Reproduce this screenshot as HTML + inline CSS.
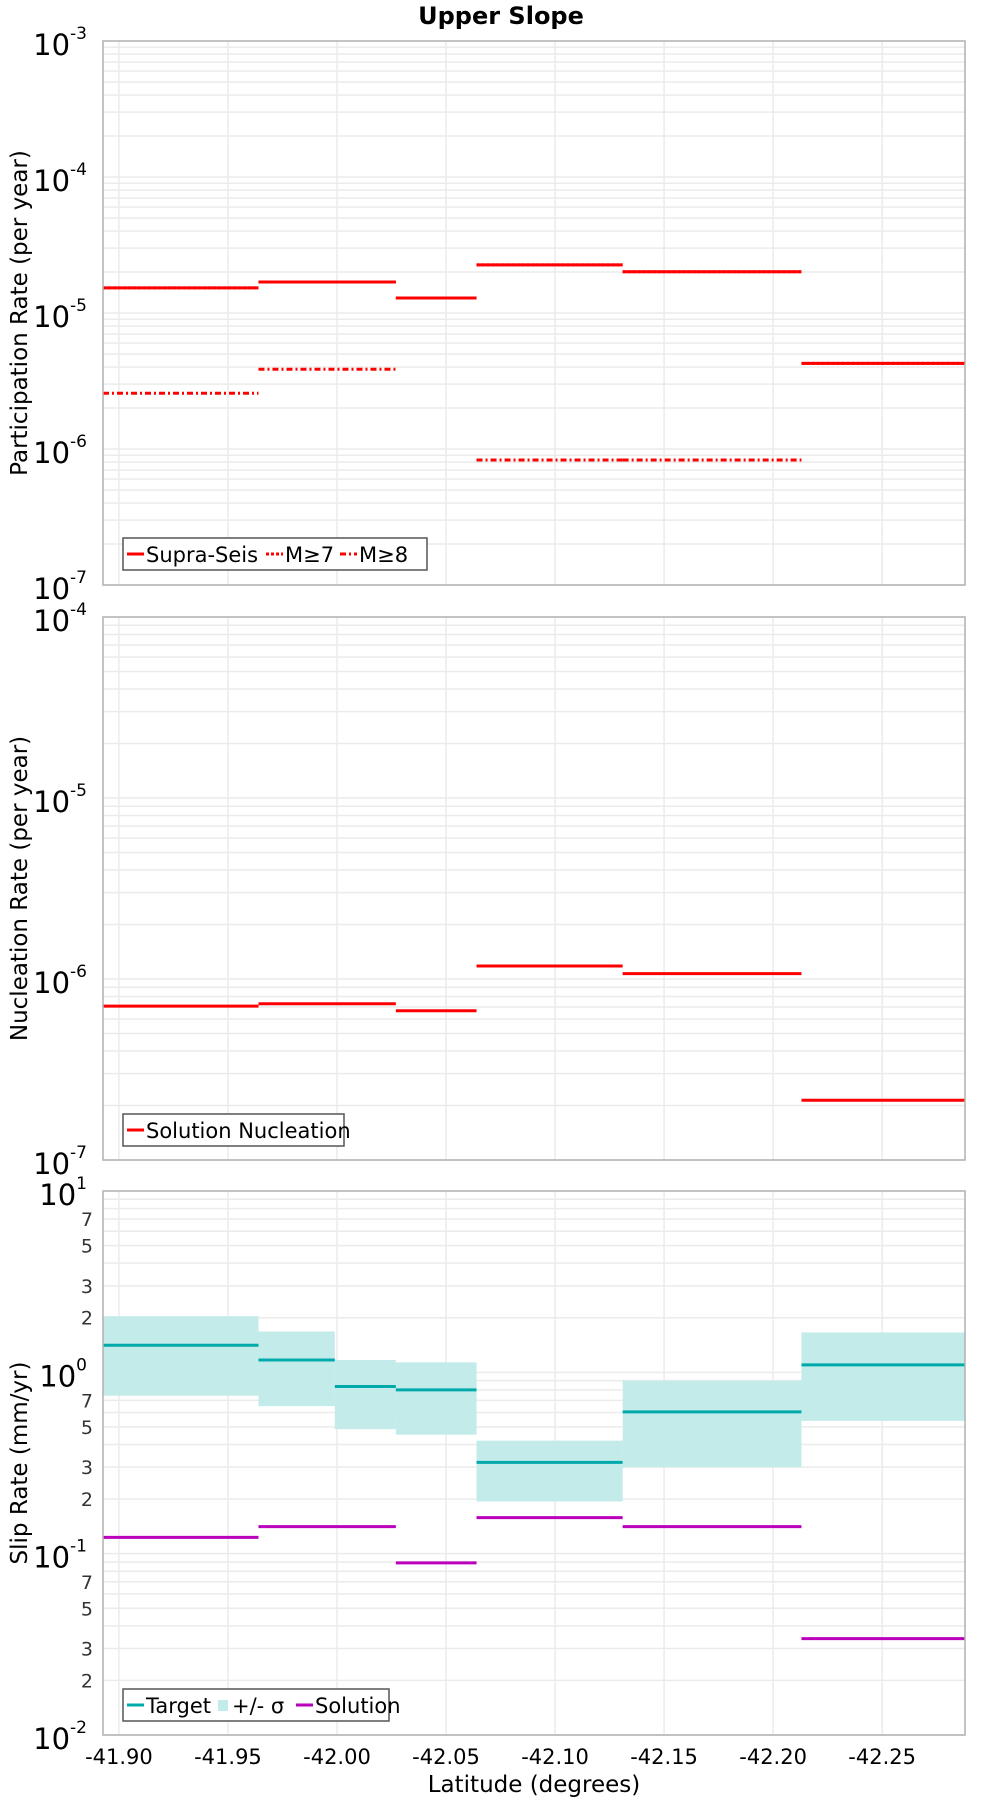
<!DOCTYPE html>
<html><head><meta charset="utf-8">
<style>
body{margin:0;background:#fff;}
svg{display:block;font-family:"DejaVu Sans","Liberation Sans",sans-serif;}
</style></head>
<body>
<svg id="chart" width="1000" height="1800" viewBox="0 0 1000 1800" xmlns="http://www.w3.org/2000/svg">
<text x="501" y="24" text-anchor="middle" font-size="24" font-weight="bold">Upper Slope</text>
<text x="534" y="1792" text-anchor="middle" font-size="23">Latitude (degrees)</text>
</svg>
<script>
// shared x data
const xTicks = [-41.90,-41.95,-42.00,-42.05,-42.10,-42.15,-42.20,-42.25];
const xTickLabels = ["-41.90","-41.95","-42.00","-42.05","-42.10","-42.15","-42.20","-42.25"];
const sectBounds = [-41.8927,-41.964,-42.027,-42.064,-42.131,-42.213,-42.288];
const targetBounds = [-41.8927,-41.964,-41.999,-42.027,-42.064,-42.131,-42.213,-42.288];
// panel 1: participation
const supraSeis = [1.53e-5,1.69e-5,1.29e-5,2.26e-5,2.01e-5,4.26e-6];
const m7 = [1.53e-5,1.69e-5,1.29e-5,2.26e-5,2.01e-5,4.26e-6];
const m8 = [2.57e-6,3.86e-6,null,8.3e-7,8.3e-7,null];
// panel 2: nucleation
const nucleation = [7.08e-7,7.3e-7,6.68e-7,1.18e-6,1.07e-6,2.14e-7];
// panel 3: slip
const targetSlip = [1.41,1.17,0.836,0.80,0.319,0.605,1.10];
const sigmaHigh = [2.04,1.68,1.17,1.135,0.42,0.90,1.66];
const sigmaLow = [0.743,0.651,0.486,0.453,0.194,0.30,0.54];
const solutionSlip = [0.123,0.141,0.089,0.158,0.141,0.034];

const NS="http://www.w3.org/2000/svg";
const svg=document.getElementById('chart');
const L=103,R=965;
function xs(lat){return L+(sectBounds[0]-lat)/(sectBounds[0]-sectBounds[6])*(R-L);}
function mk(tag,attrs,parent){const e=document.createElementNS(NS,tag);for(const k in attrs)e.setAttribute(k,attrs[k]);(parent||svg).appendChild(e);return e;}

function panel(top,bot,minE,maxE,yTitle,minorLabels,name){
  const g=mk('g',{});
  
  
  const ys=v=>bot-(Math.log10(v)-minE)/(maxE-minE)*(bot-top);
  for(let e=minE;e<maxE;e++)for(let m=1;m<10;m++){
    const y=ys(m*Math.pow(10,e));
    const gl=mk('line',{x1:L,x2:R,y1:y,y2:y,stroke:'#ebebeb','stroke-width':1.5},g);
    
    
    if(minorLabels&&[2,3,5,7].includes(m)){
      const t=mk('text',{x:L-10,y:y+7,'text-anchor':'end','font-size':19,fill:'#333'},g);t.textContent=m;
      
      
    }
  }
  xTicks.forEach(v=>{const x=xs(v);const gl=mk('line',{x1:x,x2:x,y1:top,y2:bot,stroke:'#ebebeb','stroke-width':1.5},g);
    
    });
  for(let e=minE;e<=maxE;e++){
    const y=ys(Math.pow(10,e));
    const t=mk('text',{x:L-16,y:y+14,'text-anchor':'end','font-size':29},g);
    
    
    t.textContent='10';
    const s=mk('tspan',{'font-size':17,dy:-16},t);s.textContent=String(e);
  }
  const yt=mk('text',{x:0,y:0,'text-anchor':'middle','font-size':23,transform:`translate(27,${(top+bot)/2}) rotate(-90)`},g);
  yt.textContent=yTitle;
  
  
  return {g,ys,top,bot};
}
function frame(p){const r=mk('rect',{x:L,y:p.top,width:R-L,height:p.bot-p.top,fill:'none',stroke:'#b0b0b0','stroke-width':1.5},p.g);
  
  }
function steps(p,bounds,vals,color,dash,name){
  vals.forEach((v,i)=>{if(v==null)return;const y=p.ys(v);
    const a={x1:xs(bounds[i]),x2:xs(bounds[i+1]),y1:y,y2:y,stroke:color,'stroke-width':3};
    if(dash)a['stroke-dasharray']=dash;
    const l=mk('line',a,p.g);
    
    });
}
function legend(p,x,y,w,items){
  const lg=mk('g',{},p.g);
  
  
  mk('rect',{x:x,y:y,width:w,height:32,fill:'#fff',stroke:'#555','stroke-width':1.5},lg);
  let cx=x+4;
  items.forEach(it=>{
    if(it.box){mk('rect',{x:cx+2,y:y+11,width:10,height:11,fill:it.color},lg);cx+=16;}
    else{const a={x1:cx,x2:cx+17,y1:y+16,y2:y+16,stroke:it.color,'stroke-width':3};if(it.dash)a['stroke-dasharray']=it.dash;mk('line',a,lg);cx+=19;}
    const t=mk('text',{x:cx,y:y+24,'font-size':21},lg);t.textContent=it.label;
    
    
    cx+=it.w;
  });
}

const p1=panel(41,585,-7,-3,'Participation Rate (per year)',false,'participation-panel');
steps(p1,sectBounds,supraSeis,'#ff0000',null,'supra-seis-line');
steps(p1,sectBounds,m7,'#ff0000','3 2','m7-line');
steps(p1,sectBounds,m8,'#ff0000','6 3 2 3','m8-line');
frame(p1);
legend(p1,123,538,304,[{label:'Supra-Seis',color:'#ff0000',w:120},{label:'M≥7',color:'#ff0000',dash:'3 2',w:55},{label:'M≥8',color:'#ff0000',dash:'6 3 2 3',w:50}]);

const p2=panel(617,1160,-7,-4,'Nucleation Rate (per year)',false,'nucleation-panel');
steps(p2,sectBounds,nucleation,'#ff0000',null,'nucleation-line');
frame(p2);
legend(p2,123,1114,221,[{label:'Solution Nucleation',color:'#ff0000',w:195}]);

const p3=panel(1191,1735,-2,1,'Slip Rate (mm/yr)',true,'slip-rate-panel');
sigmaHigh.forEach((h,i)=>{const y1=p3.ys(h),y2=p3.ys(sigmaLow[i]);
  const r=mk('rect',{x:xs(targetBounds[i]),y:y1,width:xs(targetBounds[i+1])-xs(targetBounds[i]),height:y2-y1,fill:'#c3ebe9'},p3.g);
  
  });
steps(p3,targetBounds,targetSlip,'#00aaaa',null,'target-line');
steps(p3,sectBounds,solutionSlip,'#bb00bb',null,'solution-line');
frame(p3);
legend(p3,123,1689,266,[{label:'Target',color:'#00aaaa',w:70},{box:true,label:'+/- σ',color:'#c3ebe9',w:64},{label:'Solution',color:'#bb00bb',w:85}]);

xTicks.forEach((v,i)=>{const t=mk('text',{x:xs(v),y:1764,'text-anchor':'middle','font-size':21});t.textContent=xTickLabels[i];
  
  });
</script>
</body></html>
